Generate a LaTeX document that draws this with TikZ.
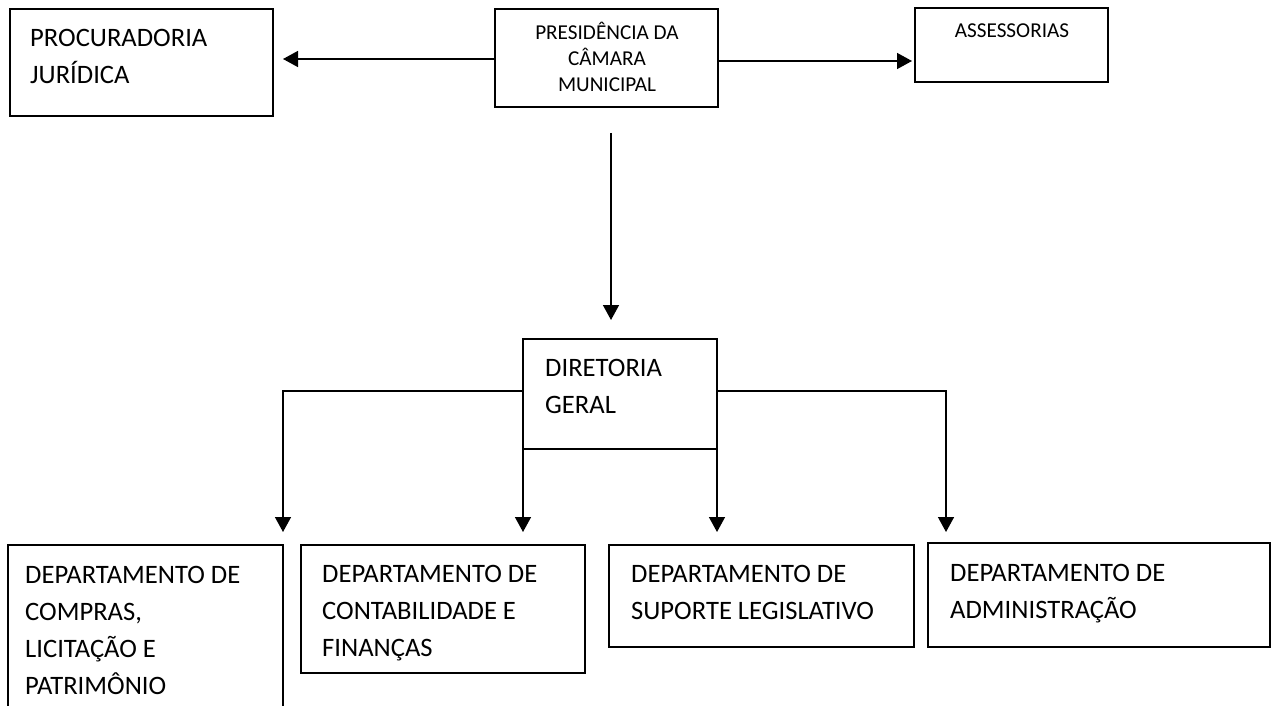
\documentclass[tikz,border=0pt]{standalone}
\usepackage{fontspec}
\setmainfont{Carlito}
\usetikzlibrary{arrows.meta}
\begin{document}
\begin{tikzpicture}[x=1pt,y=-1pt,
  box/.style={draw, line width=1.5pt, inner sep=0pt, outer sep=0pt, anchor=north west},
  big/.style={font=\fontsize{26.6}{37}\selectfont, inner sep=0pt, anchor=base west, align=left},
  small/.style={font=\fontsize{21.2}{26}\selectfont, inner sep=0pt, anchor=base, align=center},
  conn/.style={line width=1.5pt},
  arr/.style={conn, -{Triangle[length=15pt,width=16pt]}}]
\useasboundingbox (0,0) rectangle (1274,706);
\clip (0,0) rectangle (1274,706);
% boxes
\node[box, minimum width=263pt, minimum height=107pt] (proc) at (10,9) {};
\node[box, minimum width=223pt, minimum height=98pt] (pres) at (495,9) {};
\node[box, minimum width=193pt, minimum height=74pt] (asse) at (915,8) {};
\node[box, minimum width=194pt, minimum height=110pt] (dir) at (523,339) {};
\node[box, minimum width=275pt, minimum height=180pt] (d1) at (8,545) {};
\node[box, minimum width=284pt, minimum height=128pt] (d2) at (301,545) {};
\node[box, minimum width=305pt, minimum height=102pt] (d3) at (609,545) {};
\node[box, minimum width=342pt, minimum height=104pt] (d4) at (928,543) {};
% texts (anchored on the baseline of their last line)
\node[big] (tproc) at (30,84) {PROCURADORIA\\JURÍDICA};
\node[small] (tpres) at (607,92) {PRESIDÊNCIA DA\\CÂMARA\\MUNICIPAL};
\node[small] (tasse) at (1012,38) {ASSESSORIAS};
\node[big] (tdir) at (545,413) {DIRETORIA\\GERAL};
\node[big] (td1) at (25,694) {DEPARTAMENTO DE\\COMPRAS,\\LICITAÇÃO E\\PATRIMÔNIO};
\node[big] (td2) at (322,656) {DEPARTAMENTO DE\\CONTABILIDADE E\\FINANÇAS};
\node[big] (td3) at (631,619) {DEPARTAMENTO DE\\SUPORTE LEGISLATIVO};
\node[big] (td4) at (950,618) {DEPARTAMENTO DE\\ADMINISTRAÇÃO};
% connector ends
\coordinate (lp) at (283,59);
\coordinate (rp) at (912,61);
\coordinate (vs) at (611,133);
\coordinate (vt) at (611,320);
\coordinate (a1) at (283,532);
\coordinate (a2) at (523,532);
\coordinate (a3) at (717,532);
\coordinate (a4) at (946,532);
% connectors
\draw[arr] (pres.west |- lp) -- (lp);
\draw[arr] (pres.east |- rp) -- (rp);
\draw[arr] (vs) -- (vt);
\draw[arr] (dir.west |- 0,391) -| (a1);
\draw[arr] (dir.east |- 0,391) -| (a4);
\draw[arr] (dir.south west) -- (a2);
\draw[arr] (dir.south east) -- (a3);
\end{tikzpicture}
\end{document}
